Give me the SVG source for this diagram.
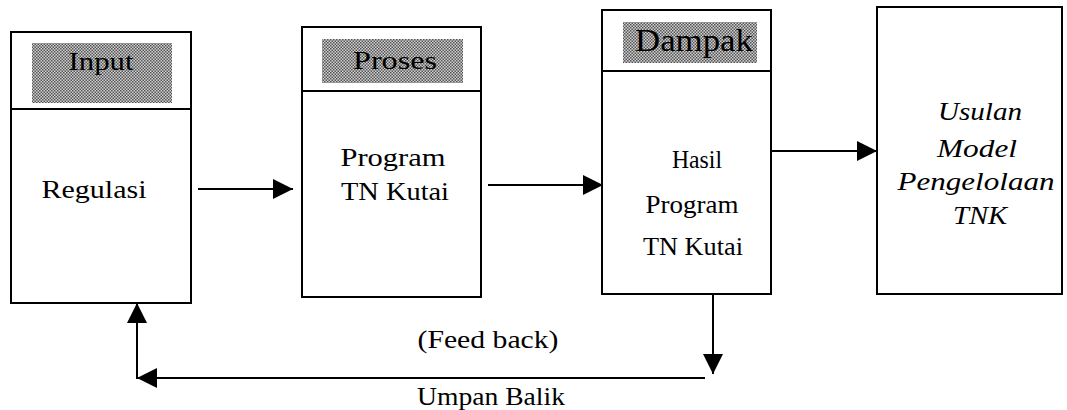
<svg xmlns="http://www.w3.org/2000/svg" width="1067" height="410" viewBox="0 0 1067 410">
<defs>
<pattern id="dither" width="3" height="3" patternUnits="userSpaceOnUse">
<rect width="3" height="3" fill="#d0d0d0"/>
<rect x="0" y="0" width="1.5" height="1.5" fill="#555"/>
<rect x="1.5" y="1.5" width="1.5" height="1.5" fill="#555"/>
</pattern>
<marker id="arr" markerUnits="userSpaceOnUse" markerWidth="22" markerHeight="22" refX="20" refY="10" orient="auto">
<path d="M0,0 L20,10 L0,20 Z" fill="#000"/>
</marker>
</defs>
<style>
.box{fill:#fff;stroke:#000;stroke-width:2}
.div{stroke:#000;stroke-width:2}
.shade{fill:url(#dither)}
text{font-family:"Liberation Serif","Times New Roman",serif;font-size:26px;fill:#000;text-anchor:middle}
.it{font-style:italic}
.c{fill:none;stroke:#000;stroke-width:2}
</style>
<rect width="1067" height="410" fill="#fff"/>
<g id="input">
<rect class="box" x="11" y="32" width="180" height="271"/>
<line class="div" x1="11" y1="109" x2="191" y2="109"/>
<rect class="shade" x="32" y="43" width="140" height="60"/>
<text x="101" y="70" textLength="65" lengthAdjust="spacingAndGlyphs">Input</text>
<text x="94" y="198" textLength="105" lengthAdjust="spacingAndGlyphs">Regulasi</text>
</g>
<g id="proses">
<rect class="box" x="302" y="27" width="179" height="270"/>
<line class="div" x1="302" y1="91" x2="481" y2="91"/>
<rect class="shade" x="322" y="39" width="141" height="44"/>
<text x="395" y="69" textLength="84" lengthAdjust="spacingAndGlyphs">Proses</text>
<text x="393" y="166" textLength="105" lengthAdjust="spacingAndGlyphs">Program</text>
<text x="395" y="200" textLength="108" lengthAdjust="spacingAndGlyphs">TN Kutai</text>
</g>
<g id="dampak">
<rect class="box" x="602" y="10" width="169" height="284"/>
<line class="div" x1="602" y1="71" x2="771" y2="71"/>
<rect class="shade" x="623" y="22" width="134" height="41"/>
<text x="694" y="51" style="font-size:32px" textLength="118" lengthAdjust="spacingAndGlyphs">Dampak</text>
<text x="697" y="168" textLength="50" lengthAdjust="spacingAndGlyphs">Hasil</text>
<text x="692" y="213" textLength="93" lengthAdjust="spacingAndGlyphs">Program</text>
<text x="693" y="255" textLength="100" lengthAdjust="spacingAndGlyphs">TN Kutai</text>
</g>
<g id="usulan">
<rect class="box" x="877" y="7" width="185" height="287"/>
<text class="it" x="980" y="120" textLength="84" lengthAdjust="spacingAndGlyphs">Usulan</text>
<text class="it" x="977" y="157" textLength="80" lengthAdjust="spacingAndGlyphs">Model</text>
<text class="it" x="976" y="190" textLength="157" lengthAdjust="spacingAndGlyphs">Pengelolaan</text>
<text class="it" x="980" y="224" textLength="54" lengthAdjust="spacingAndGlyphs">TNK</text>
</g>
<g id="connectors">
<path class="c" d="M198,189 H293" marker-end="url(#arr)"/>
<path class="c" d="M488,185 H603" marker-end="url(#arr)"/>
<path class="c" d="M772,151 H877" marker-end="url(#arr)"/>
<path class="c" d="M713,294 V374" marker-end="url(#arr)"/>
<path class="c" d="M705,378 H137" marker-end="url(#arr)"/>
<path class="c" d="M137,379 V303" marker-end="url(#arr)"/>
<text x="488" y="348" textLength="141" lengthAdjust="spacingAndGlyphs">(Feed back)</text>
<text x="491" y="405" textLength="148" lengthAdjust="spacingAndGlyphs">Umpan Balik</text>
</g>
</svg>
